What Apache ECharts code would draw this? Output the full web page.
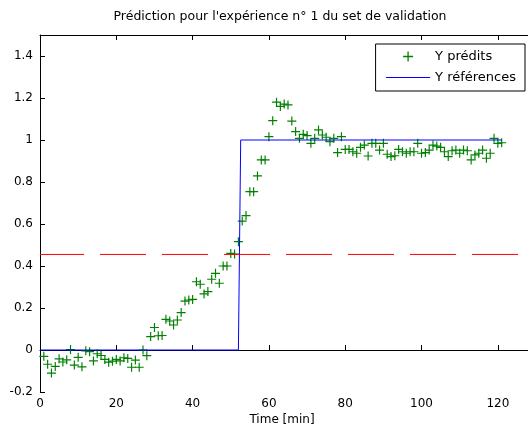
<!DOCTYPE html>
<html><head><meta charset="utf-8">
<script src="https://cdn.jsdelivr.net/npm/echarts@6/dist/echarts.min.js"></script>
<style>html,body{margin:0;padding:0;background:#fff}#c{width:528px;height:429px}</style>
</head><body><div id="c"></div>
<script>
// ---- data ----
const times = [
  1,2,3,4,5,6,7,8,9,10,11,12,13,14,15,16,17,18,19,20,
  21,22,23,24,25,26,27,28,29,30,31,32,33,34,35,36,37,38,39,40,
  41,42,43,44,45,46,47,48,49,50,51,52,53,54,55,56,57,58,59,60,
  61,62,63,64,65,66,67,68,69,70,71,72,73,74,75,76,77,78,79,80,
  81,82,83,84,85,86,87,88,89,90,91,92,93,94,95,96,97,98,99,100,
  101,102,103,104,105,106,107,108,109,110,111,112,113,114,115,116,117,118,119,120,121
];
const yPredits = [
  -0.030,-0.068,-0.110,-0.078,-0.042,-0.057,-0.047,0.002,-0.072,-0.035,
  -0.080,-0.004,-0.008,-0.052,-0.018,-0.026,-0.045,-0.058,-0.053,-0.045,
  -0.052,-0.037,-0.040,-0.082,-0.048,-0.082,
  0.000,-0.027,0.064,0.107,0.068,0.069,0.146,0.138,0.119,0.143,
  0.178,0.233,0.238,0.241,0.325,0.313,0.267,0.278,0.337,0.365,
  0.318,0.400,0.400,0.460,0.457,0.516,
  0.614,0.640,0.754,0.754,0.829,0.905,0.905,1.016,1.092,1.180,
  1.160,1.171,1.167,1.090,1.040,1.008,1.027,1.021,0.984,1.008,1.048,
  1.024,1.013,0.992,1.008,0.940,1.016,0.955,0.955,0.944,0.937,0.965,0.976,0.924,0.984,0.984,0.952,0.984,
  0.932,0.921,0.925,0.955,0.944,0.937,0.944,0.944,0.984,0.937,
  0.940,0.952,0.976,0.971,0.965,0.944,0.921,0.949,0.952,0.937,
  0.952,0.949,0.905,0.929,0.937,0.952,0.913,0.937,1.008,0.984,0.987
];
const refTimes = [0, 52, 52.6, 121];
const yReferences = [0, 0, 1, 1];
const thresholdTimes = [0, 130];
const thresholdValues = [0.455, 0.455];
const xTickValues = [0, 20, 40, 60, 80, 100, 120];
const yTickValues = [-0.2, 0, 0.2, 0.4, 0.6, 0.8, 1, 1.2, 1.4];
const titleText = "Prédiction pour l'expérience n° 1 du set de validation";
const xLabelText = 'Time [min]';
const seriesNames = ['Y prédits', 'Y références'];

const pair = (xs, ys) => xs.map((x, i) => [x, ys[i]]);
const FONT = 'DejaVu Sans';
const plusPath = 'path://M4.35,0H5.65V4.35H10V5.65H5.65V10H4.35V5.65H0V4.35H4.35Z';

const chart = echarts.init(document.getElementById('c'), null, {renderer: 'canvas'});
const axisCommon = {
  type: 'value', min: 0, max: 130, interval: 20,
  axisLine: {show: true, lineStyle: {color: '#000', width: 1}},
  axisTick: {show: true, inside: true, length: 5, lineStyle: {color: '#000'}},
  splitLine: {show: false}
};
chart.setOption({
  animation: false,
  backgroundColor: '#fff',
  grid: {left: 40, right: -8, top: 35, bottom: 37, containLabel: false, outerBoundsMode: 'none'},
  xAxis: [
    Object.assign({}, axisCommon, {
      position: 'bottom',
      axisLabel: {show: true, margin: 6, color: '#000', fontFamily: FONT, fontSize: 12,
        showMaxLabel: false,
        formatter: v => xTickValues.includes(v) ? String(v) : ''}
    }),
    Object.assign({}, axisCommon, {
      position: 'top',
      axisLabel: {show: false}
    })
  ],
  yAxis: {
    type: 'value', min: -0.2, max: 1.5, interval: 0.2,
    axisLine: {show: true, lineStyle: {color: '#000', width: 1}},
    axisTick: {show: true, inside: true, length: 5, lineStyle: {color: '#000'}},
    splitLine: {show: false},
    axisLabel: {show: true, margin: 7, color: '#000', fontFamily: FONT, fontSize: 12,
      showMaxLabel: false,
      formatter: v => {
        const r = Math.round(v * 10) / 10;
        return yTickValues.some(t => Math.abs(t - r) < 1e-9) ? String(r) : '';
      }}
  },
  legend: {
    orient: 'vertical', right: 3, top: 44,
    padding: [6, 9, 7, 10], itemGap: 8, itemWidth: 44, itemHeight: 10,
    borderColor: '#000', borderWidth: 1, backgroundColor: '#fff',
    symbolKeepAspect: true,
    textStyle: {fontFamily: FONT, fontSize: 13, color: '#000', lineHeight: 12},
    data: [
      {name: seriesNames[0], itemStyle: {color: '#008000', borderWidth: 0}},
      {name: seriesNames[1],
        itemStyle: {opacity: 0, borderWidth: 0},
        lineStyle: {color: '#0000ff', width: 1, opacity: 1}}
    ],
    selectedMode: false
  },
  graphic: [
    {type: 'text', x: 280, y: 17, silent: true,
      style: {text: titleText, fontFamily: FONT, fontSize: 12.5, fill: '#000',
        textAlign: 'center', textVerticalAlign: 'middle', align: 'center', verticalAlign: 'middle'}},
    {type: 'text', x: 282, y: 420, silent: true,
      style: {text: xLabelText, fontFamily: FONT, fontSize: 12, fill: '#000',
        textAlign: 'center', textVerticalAlign: 'middle', align: 'center', verticalAlign: 'middle'}}
  ],
  series: [
    {
      name: seriesNames[0], type: 'scatter',
      data: pair(times, yPredits),
      symbol: plusPath, symbolSize: 9,
      itemStyle: {color: '#008000', opacity: 1},
      z: 2
    },
    {
      name: seriesNames[1], type: 'line',
      data: pair(refTimes, yReferences),
      symbol: 'none', showSymbol: false,
      lineStyle: {color: '#0000ff', width: 1},
      itemStyle: {color: '#0000ff'},
      z: 3
    },
    {
      name: 'seuil', type: 'line',
      data: pair(thresholdTimes, thresholdValues),
      symbol: 'none', showSymbol: false,
      lineStyle: {color: '#ff0000', width: 1, type: [46, 16], dashOffset: 2},
      itemStyle: {color: '#ff0000'},
      z: 4
    }
  ]
});
</script>
</body></html>
